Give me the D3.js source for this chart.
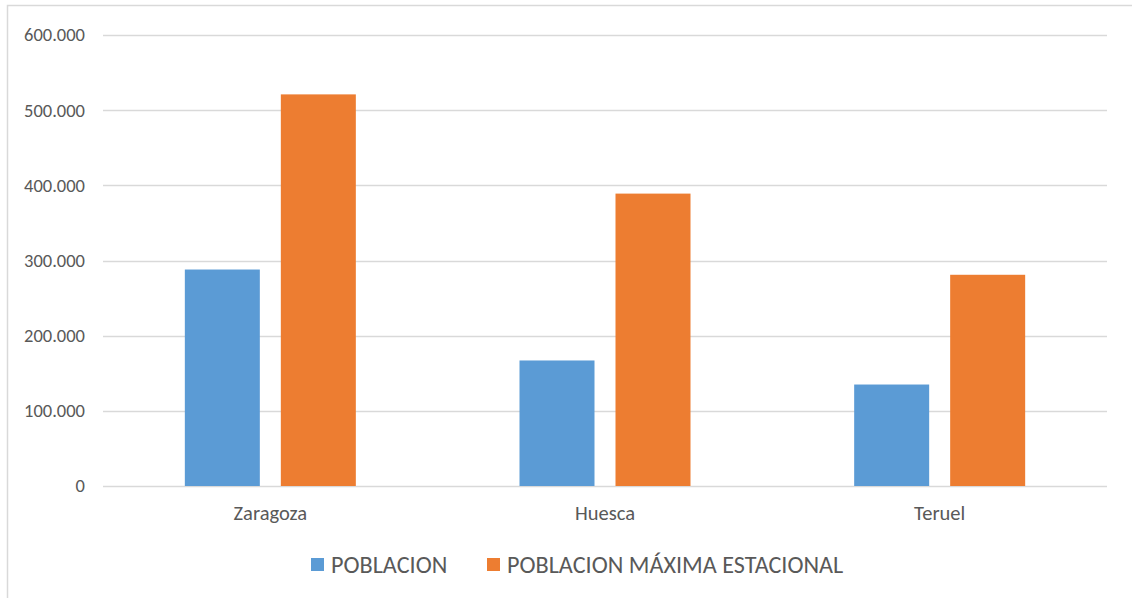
<!DOCTYPE html>
<html>
<head>
<meta charset="utf-8">
<script src="https://cdn.jsdelivr.net/npm/d3@7"></script>
<style>
  html, body { margin: 0; padding: 0; background: #fff; }
  svg { display: block; font-family: Carlito, "Liberation Sans", Arial, sans-serif; }
</style>
</head>
<body>
<svg id="chart" width="1132" height="598"></svg>
<script>
const categories = ["Zaragoza", "Huesca", "Teruel"];
const seriesNames = ["POBLACION", "POBLACION MÁXIMA ESTACIONAL"];
const poblacion = [288000, 167000, 135000];
const poblacionMaxima = [521000, 389000, 281000];
const yTicks = [0, 100000, 200000, 300000, 400000, 500000, 600000];
const colors = ["#5B9BD5", "#ED7D31"];

(function () {
const seriesValues = [poblacion, poblacionMaxima];
const data = categories.map((c, i) => ({
  category: c,
  values: seriesNames.map((s, j) => ({ series: s, value: seriesValues[j][i] }))
}));

const svg = d3.select("#chart");
const W = 1132, H = 598;
const mLeft = 103, mRight = 1107, mTop = 35, mBottom = 486;

// chart border
svg.append("rect")
  .attr("x", 7.5).attr("y", 5.5)
  .attr("width", W + 10).attr("height", H + 10)
  .attr("fill", "none").attr("stroke", "#D9D9D9").attr("stroke-width", 1.5);

const y = d3.scaleLinear().domain([0, 600000]).range([mBottom, mTop]);
const pad = 1 - 171 / ((mRight - mLeft) / 3);
const x0 = d3.scaleBand().domain(categories).range([mLeft, mRight])
  .paddingInner(pad).paddingOuter(pad / 2);
const x1 = d3.scaleBand().domain(seriesNames).range([0, x0.bandwidth()])
  .paddingInner(0.21875);

const locale = d3.formatLocale({ decimal: ",", thousands: ".", grouping: [3], currency: ["", ""] });
const fmt = locale.format(",");

// gridlines
svg.append("g").selectAll("line").data(yTicks).join("line")
  .attr("x1", mLeft).attr("x2", mRight)
  .attr("y1", d => Math.round(y(d)) + 0.5).attr("y2", d => Math.round(y(d)) + 0.5)
  .attr("stroke", "#D9D9D9").attr("stroke-width", 1.5);

// y axis labels
const yAxis = d3.axisLeft(y).tickValues(yTicks).tickFormat(fmt).tickSize(0).tickPadding(18);
const gy = svg.append("g").attr("transform", `translate(${mLeft},0)`).call(yAxis);
gy.select(".domain").remove();
gy.selectAll("text").attr("fill", "#595959").style("font-size", "18.5px")
  .style("font-family", 'Carlito, "Liberation Sans", Arial, sans-serif');

// bars
const groups = svg.append("g").selectAll("g").data(data).join("g")
  .attr("transform", d => `translate(${x0(d.category)},0)`);
groups.selectAll("rect").data(d => d.values).join("rect")
  .attr("x", d => x1(d.series))
  .attr("width", x1.bandwidth())
  .attr("y", d => y(d.value))
  .attr("height", d => y(0) - y(d.value))
  .attr("fill", (d, i) => colors[i]);

// x axis labels
const xAxis = d3.axisBottom(x0).tickSize(0).tickPadding(19);
const gx = svg.append("g").attr("transform", `translate(0,${mBottom})`).call(xAxis);
gx.select(".domain").remove();
gx.selectAll("text").attr("fill", "#595959").style("font-size", "20.5px")
  .style("font-family", 'Carlito, "Liberation Sans", Arial, sans-serif');

// legend
const legendY = 565;
const legendItems = [
  { name: seriesNames[0], color: colors[0], x: 311 },
  { name: seriesNames[1], color: colors[1], x: 487 }
];
const lg = svg.append("g").selectAll("g").data(legendItems).join("g")
  .attr("transform", d => `translate(${d.x},${legendY})`);
lg.append("rect").attr("x", 0).attr("y", -7).attr("width", 13).attr("height", 13)
  .attr("fill", d => d.color);
lg.append("text").attr("x", 20).attr("y", 0).attr("dy", "0.35em")
  .attr("fill", "#595959").style("font-size", "24.2px")
  .text(d => d.name);
})();
</script>
</body>
</html>
